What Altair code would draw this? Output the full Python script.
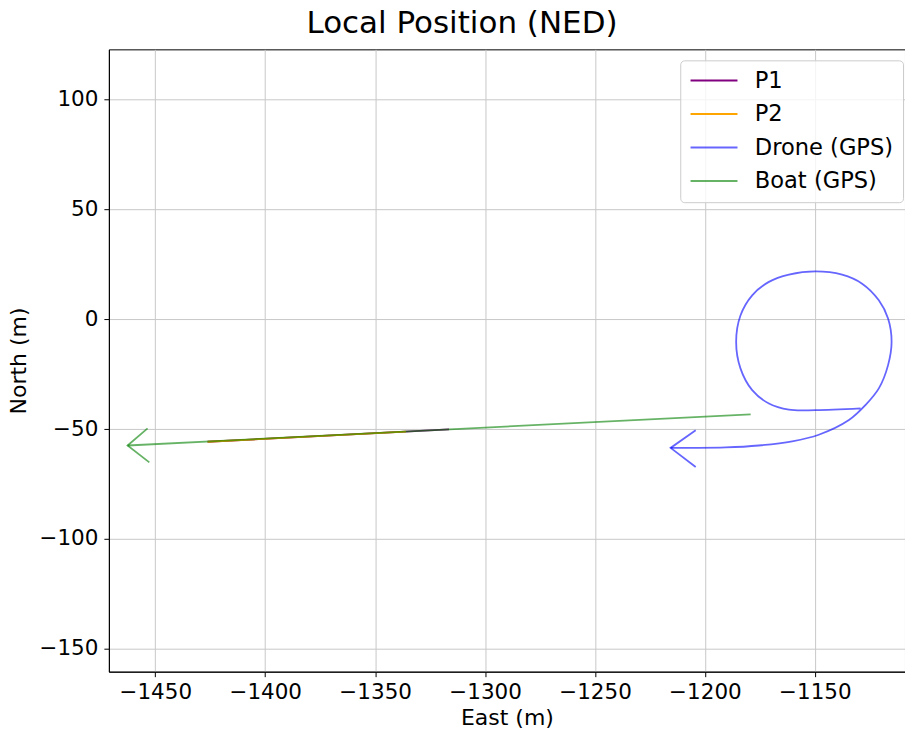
import altair as alt
import pandas as pd

series_names = ["P1", "P2", "Drone (GPS)", "Boat (GPS)"]
series_colors = ["#800080", "#ffa500", "rgba(0,0,255,0.6)", "rgba(0,128,0,0.6)"]

p1_east = [-1316.4, -1426.2]
p1_north = [-50.2, -55.8]
p2_east = [-1336.0, -1426.2]
p2_north = [-51.2, -55.8]

drone_east = [-1129.2, -1149.7, -1161.8, -1170.9, -1178.5, -1183.8, -1185.8, -1183.8,
              -1178.5, -1170.9, -1161.8, -1149.7, -1137.6, -1128.5, -1120.9, -1116.7,
              -1115.1, -1116.7, -1120.9, -1127.0, -1134.5, -1148.2, -1160.3, -1175.5,
              -1190.6, -1205.8, -1215.6]
drone_north = [-40.6, -41.4, -41.2, -38.4, -32.3, -22.5, -10.3, 1.8,
               10.9, 17.0, 20.3, 21.8, 20.3, 16.2, 8.6, 0.3,
               -10.3, -20.9, -31.5, -39.1, -45.9, -52.6, -55.6, -57.5,
               -58.4, -58.6, -58.6]
drone_arrow_east = [-1204.2, -1215.6, -1204.2]
drone_arrow_north = [-50.6, -58.6, -67.3]

boat_east = [-1179.2, -1462.6]
boat_north = [-43.3, -57.5]
boat_arrow_east = [-1453.5, -1462.6, -1452.7]
boat_arrow_north = [-49.7, -57.5, -65.2]

x_ticks = [-1450, -1400, -1350, -1300, -1250, -1200, -1150]
y_ticks = [-150, -100, -50, 0, 50, 100]


def rows(series, seg, east, north):
    return [{"series": series, "seg": seg, "i": k, "east": e, "north": n}
            for k, (e, n) in enumerate(zip(east, north))]


p1_df = pd.DataFrame(rows("P1", "p1", p1_east, p1_north))
p2_df = pd.DataFrame(rows("P2", "p2", p2_east, p2_north))
drone_df = pd.DataFrame(rows("Drone (GPS)", "d", drone_east, drone_north))
drone_arrow_df = pd.DataFrame(rows("Drone (GPS)", "da", drone_arrow_east, drone_arrow_north))
boat_df = pd.DataFrame(rows("Boat (GPS)", "b", boat_east, boat_north)
                       + rows("Boat (GPS)", "ba", boat_arrow_east, boat_arrow_north))

x_scale = alt.Scale(domain=[-1471.1, -1109.0], nice=False, zero=False)
y_scale = alt.Scale(domain=[-160.5, 122.9], nice=False, zero=False)
color_scale = alt.Scale(domain=series_names, range=series_colors)

legend = alt.Legend(
    title=None, orient="none", legendX=572, legendY=11,
    symbolType="M-2.35,0L2.35,0", symbolSize=400, symbolStrokeWidth=2,
    symbolOffset=13.5,
    labelFontSize=22.6, labelFont="DejaVu Sans", labelColor="black",
    padding=9, rowPadding=10.5, labelOffset=29.5,
    strokeColor="#cccccc", fillColor="rgba(255,255,255,0.8)", cornerRadius=4,
)


def layer(df, interp="linear"):
    return alt.Chart(df).mark_line(strokeWidth=1.8, clip=True, interpolate=interp).encode(
        x=alt.X("east:Q", scale=x_scale, title="East (m)",
                axis=alt.Axis(values=x_ticks, format="d")),
        y=alt.Y("north:Q", scale=y_scale, title="North (m)",
                axis=alt.Axis(values=y_ticks, format="d")),
        color=alt.Color("series:N", scale=color_scale, legend=legend),
        detail="seg:N",
        order=alt.Order("i:Q"),
    )


chart = alt.layer(
    layer(p1_df), layer(p2_df), layer(drone_df, "catmull-rom"), layer(drone_arrow_df), layer(boat_df)
).properties(
    width=797, height=623,
    title=alt.TitleParams("Local Position (NED)", fontSize=31, font="DejaVu Sans",
                          fontWeight="normal", color="black", anchor="middle",
                          dx=-45, offset=9),
    autosize=alt.AutoSizeParams(type="none"),
    padding={"left": 109, "top": 49, "right": 0, "bottom": 61},
).configure_view(stroke="black", strokeWidth=1).configure_axis(
    labelFont="DejaVu Sans", labelFontSize=21.5, labelColor="black",
    titleFont="DejaVu Sans", titleFontSize=22, titleFontWeight="normal", titleColor="black",
    tickColor="black", tickSize=5, domainColor="black", domainWidth=1,
    gridColor="#c8c8c8", gridWidth=1, labelPadding=6,
).configure_axisX(titlePadding=4, labelPadding=5).configure_axisY(titlePadding=8)

chart.save("out.html", embed_options={"renderer": "svg", "actions": False})
